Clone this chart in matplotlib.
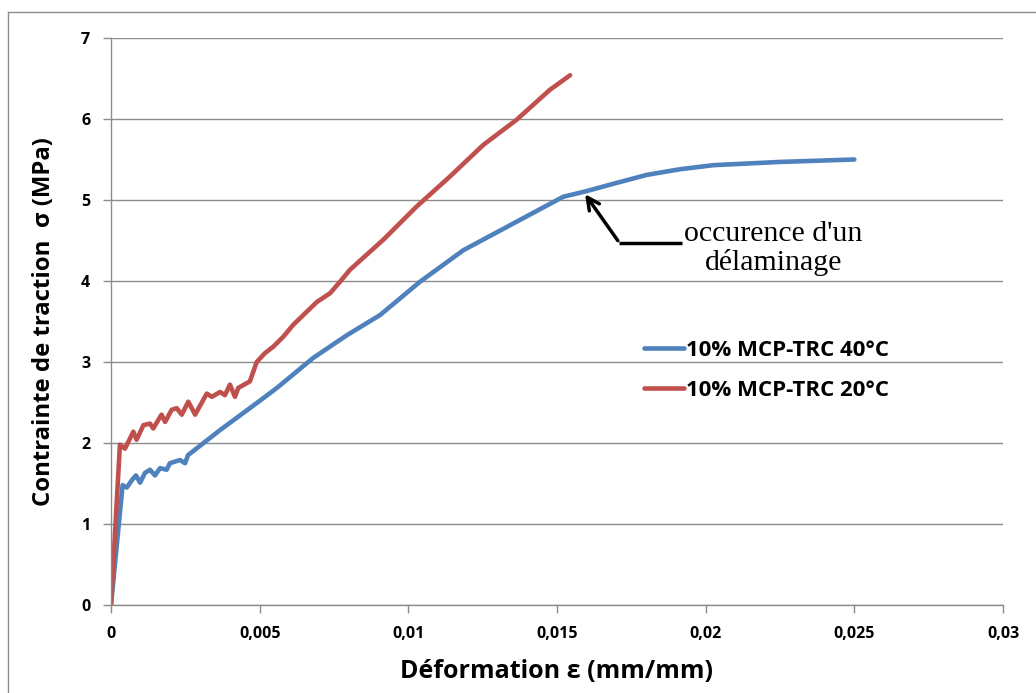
import matplotlib
matplotlib.use('Agg')
import matplotlib.pyplot as plt
from matplotlib.ticker import FuncFormatter, MultipleLocator
from matplotlib.lines import Line2D

# 10% MCP-TRC 40°C (blue)
eps_40 = [0, 0.00039, 0.00053, 0.0007, 0.00084, 0.00098, 0.00114, 0.00131, 0.00148,
          0.00165, 0.00187, 0.00198, 0.00215, 0.00232, 0.00249, 0.00259, 0.00367,
          0.005, 0.00558, 0.0068, 0.00793, 0.00905, 0.01039, 0.01185, 0.01353,
          0.01521, 0.016, 0.01689, 0.01802, 0.01914, 0.02026, 0.0225, 0.025]
sig_40 = [0, 1.48, 1.45, 1.54, 1.6, 1.51, 1.63, 1.67, 1.6,
          1.69, 1.67, 1.75, 1.77, 1.79, 1.75, 1.85, 2.16,
          2.52, 2.68, 3.05, 3.33, 3.58, 3.99, 4.38, 4.71,
          5.04, 5.11, 5.2, 5.31, 5.38, 5.43, 5.47, 5.5]

# 10% MCP-TRC 20°C (red)
eps_20 = [0, 0.0003, 0.00047, 0.00075, 0.00086, 0.00109, 0.00131, 0.00142, 0.0017,
          0.00182, 0.00204, 0.00221, 0.00238, 0.0026, 0.00283, 0.00322, 0.00339,
          0.00367, 0.00383, 0.004, 0.00417, 0.00428, 0.00467, 0.0049, 0.00518,
          0.00546, 0.00579, 0.00613, 0.00647, 0.00692, 0.00737, 0.0077, 0.00804,
          0.00916, 0.01028, 0.0114, 0.01252, 0.01364, 0.01476, 0.01544]
sig_20 = [0, 1.98, 1.93, 2.14, 2.04, 2.22, 2.24, 2.18, 2.35,
          2.26, 2.41, 2.43, 2.35, 2.51, 2.35, 2.61, 2.57,
          2.63, 2.59, 2.72, 2.57, 2.68, 2.76, 3.0, 3.11,
          3.19, 3.31, 3.46, 3.58, 3.74, 3.85, 3.99, 4.14,
          4.51, 4.92, 5.29, 5.68, 5.99, 6.36, 6.54]

labels = ['10% MCP-TRC 40°C', '10% MCP-TRC 20°C']
colors = ['#4F81BD', '#C0504D']

plt.rcParams['font.family'] = ['Open Sans', 'DejaVu Sans']

fig = plt.figure(figsize=(10.36, 6.93), dpi=100)
ax = fig.add_axes([111/1036, 88/693, 892/1036, 567/693])

ax.plot(eps_40, sig_40, color=colors[0], lw=3.3, solid_capstyle='round', solid_joinstyle='round')
ax.plot(eps_20, sig_20, color=colors[1], lw=3.3, solid_capstyle='round', solid_joinstyle='round')

ax.set_xlim(0, 0.03)
ax.set_ylim(0, 7)
ax.xaxis.set_major_locator(MultipleLocator(0.005))
ax.yaxis.set_major_locator(MultipleLocator(1))
ax.xaxis.set_major_formatter(FuncFormatter(lambda v, p: '0' if abs(v) < 1e-9 else ('%g' % round(v, 4)).replace('.', ',')))
ax.yaxis.set_major_formatter(FuncFormatter(lambda v, p: '%d' % v))

ax.grid(axis='y', color='#8c8c8c', lw=1)
ax.set_axisbelow(True)
for s in ['top', 'right']:
    ax.spines[s].set_visible(False)
for s in ['left', 'bottom']:
    ax.spines[s].set_color('#8c8c8c')
    ax.spines[s].set_linewidth(1)
ax.tick_params(colors='#8c8c8c', length=6, width=1, labelcolor='black', labelsize=11.5)
ax.tick_params(axis='y', pad=9)
ax.tick_params(axis='x', pad=9)
for t in ax.get_xticklabels() + ax.get_yticklabels():
    t.set_fontweight('bold')

ax.set_xlabel('Déformation ε (mm/mm)', fontsize=18, fontweight='bold', labelpad=12)
ax.set_ylabel('Contrainte de traction  σ (MPa)', fontsize=17.2, fontweight='bold', labelpad=18)

handles = [Line2D([], [], color=c, lw=3.3, solid_capstyle='round') for c in colors]
leg = ax.legend(handles, labels, loc='center left', bbox_to_anchor=(0.597, 0.414),
                frameon=False, handlelength=1.8, handletextpad=0.12,
                labelspacing=0.85, borderpad=0, borderaxespad=0,
                prop={'weight': 'bold', 'size': 16})

# annotation
ax.plot([0.0171, 0.0192], [4.47, 4.47], color='black', lw=2.5, solid_capstyle='butt')
ax.annotate('', xy=(0.01589, 5.1), xytext=(0.0171, 4.47),
            arrowprops=dict(arrowstyle='->', color='black', lw=2.5, mutation_scale=22))
ax.text(0.02228, 4.40, "occurence d'un\ndélaminage", fontsize=21.5, family='Liberation Serif',
        ha='center', va='center', linespacing=1.12)

# figure border
fig.add_artist(Line2D([8/1036, 8/1036], [0, 1 - 12/693], color='#8c8c8c', lw=1, transform=fig.transFigure))
fig.add_artist(Line2D([8/1036, 1], [1 - 12/693, 1 - 12/693], color='#8c8c8c', lw=1, transform=fig.transFigure))

fig.savefig('out.png', dpi=100)
